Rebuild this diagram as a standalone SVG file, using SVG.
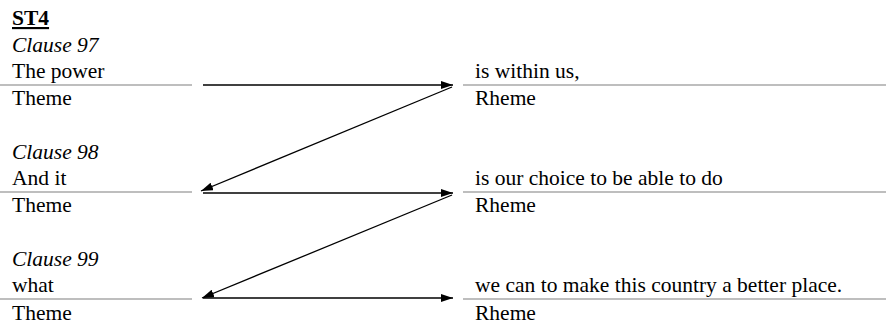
<svg xmlns="http://www.w3.org/2000/svg" width="886" height="329" viewBox="0 0 886 329">
<style>
text{font-family:"Liberation Serif","Times New Roman",serif;font-size:21.5px;fill:#000}
.i{font-style:italic}
.b{font-weight:bold;text-decoration:underline}
.rule{stroke:#a8a8a8;stroke-width:1.5}
.arr{stroke:#000;stroke-width:1.3;fill:none;marker-end:url(#ah)}
</style>
<defs>
<marker id="ah" markerWidth="12" markerHeight="8" refX="12" refY="4" orient="auto" markerUnits="userSpaceOnUse">
<path d="M0,0 L12,4 L0,8 Z" fill="#000"/>
</marker>
</defs>
<rect width="886" height="329" fill="#fff"/>
<text x="12" y="25" class="b">ST4</text>
<g id="clause97">
<text x="12" y="52" class="i">Clause 97</text>
<text x="12" y="78">The power</text>
<line class="rule" x1="0" y1="85" x2="192" y2="85"/>
<text x="12" y="105">Theme</text>
<text x="475" y="78">is within us,</text>
<line class="rule" x1="463" y1="85" x2="886" y2="85"/>
<text x="475" y="105">Rheme</text>
</g>
<g id="clause98">
<text x="12" y="159" class="i">Clause 98</text>
<text x="12" y="185">And it</text>
<line class="rule" x1="0" y1="192" x2="192" y2="192"/>
<text x="12" y="212">Theme</text>
<text x="475" y="185">is our choice to be able to do</text>
<line class="rule" x1="463" y1="192" x2="886" y2="192"/>
<text x="475" y="212">Rheme</text>
</g>
<g id="clause99">
<text x="12" y="266" class="i">Clause 99</text>
<text x="12" y="292">what</text>
<line class="rule" x1="0" y1="299" x2="192" y2="299"/>
<text x="12" y="320">Theme</text>
<text x="475" y="292">we can to make this country a better place.</text>
<line class="rule" x1="463" y1="299" x2="886" y2="299"/>
<text x="475" y="320">Rheme</text>
</g>
<g id="connectors">
<line class="arr" x1="203" y1="85" x2="453" y2="85"/>
<line class="arr" x1="452" y1="87" x2="201" y2="191"/>
<line class="arr" x1="203" y1="193" x2="453" y2="193"/>
<line class="arr" x1="452" y1="195" x2="202" y2="298"/>
<line class="arr" x1="203" y1="298" x2="453" y2="298"/>
</g>
</svg>
